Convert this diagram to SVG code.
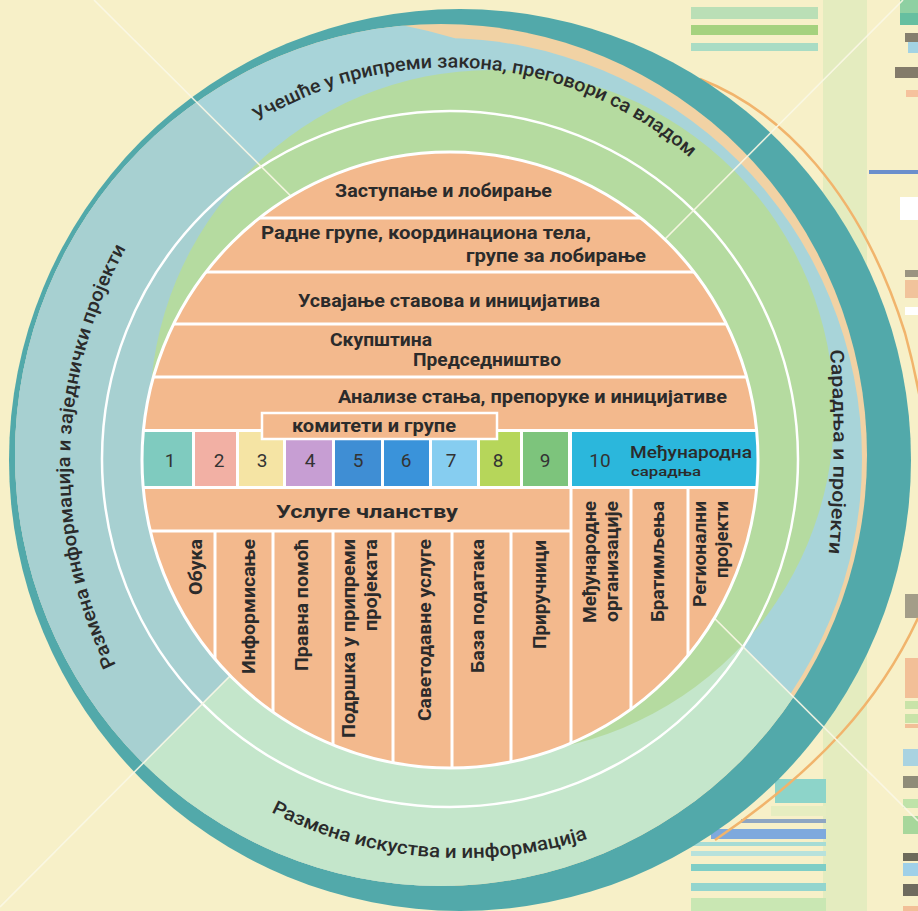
<svg xmlns="http://www.w3.org/2000/svg" width="918" height="911" viewBox="0 0 918 911">
<defs>
<style>
.t{font-family:Roboto,"Liberation Sans","DejaVu Sans",sans-serif;fill:#2b2b2b;}
.b{font-size:19px;font-weight:700;}
.v{font-size:18px;font-weight:700;}
.n{font-size:19px;font-weight:400;fill:#333;}
.r{font-size:19px;font-weight:500;}
.sep{stroke:#fff;stroke-width:3;fill:none;}
.xl{stroke:#f9f7e6;stroke-width:1.6;fill:none;opacity:.9;}
</style>
<clipPath id="cD"><ellipse cx="441" cy="455" rx="426" ry="431"/></clipPath>
<clipPath id="cDisc"><circle cx="450" cy="460" r="308"/></clipPath>
<clipPath id="cL"><rect x="0" y="0" width="455" height="911"/></clipPath>
<path id="pTop" d="M257.7,121.8 A366,366 0 0 1 690.1,157.7"/>
<path id="pRight" d="M830,350 Q838,455 828,560"/>
<path id="pBottom" d="M271,812 A419,419 0 0 0 590,838"/>
<path id="pLeft" d="M116,665 A453,453 0 0 1 125,250"/>
</defs>

<rect width="918" height="911" fill="#f7f0c8"/>

<g id="decor">
<rect x="823" y="0" width="44" height="911" fill="#e4ecbf"/>
<rect x="691" y="7" width="127" height="12" fill="#badfb6"/>
<rect x="691" y="25" width="127" height="10" fill="#a5d27e"/>
<rect x="691" y="43" width="127" height="8" fill="#a9dcc4"/>
<rect x="900" y="0" width="18" height="13" fill="#8ed0a2"/>
<rect x="900" y="13" width="18" height="12" fill="#66bfa0"/>
<rect x="905" y="33" width="13" height="9" fill="#857f6e"/>
<rect x="908" y="42" width="10" height="11" fill="#a3d3e3"/>
<rect x="895" y="67" width="23" height="11" fill="#837b6a"/>
<rect x="906" y="90" width="12" height="7" fill="#f6c29d"/>
<rect x="869" y="170" width="49" height="4" fill="#6b8fcc"/>
<rect x="900" y="197" width="18" height="23" fill="#ffffff"/>
<rect x="905" y="270" width="13" height="7" fill="#9a9480"/>
<rect x="905" y="280" width="13" height="18" fill="#f1c39b"/>
<rect x="905" y="307" width="13" height="8" fill="#ffffff"/>
<rect x="905" y="594" width="13" height="24" fill="#a39d88"/>
<rect x="905" y="658" width="13" height="40" fill="#f2bf97"/>
<rect x="905" y="701" width="13" height="8" fill="#c9e3a8"/>
<rect x="905" y="714" width="13" height="9" fill="#c9e3a8"/>
<rect x="905" y="724" width="13" height="4" fill="#f2bf97"/>
<rect x="903" y="749" width="15" height="17" fill="#a9d3e1"/>
<rect x="903" y="776" width="15" height="12" fill="#8f8c78"/>
<rect x="903" y="799" width="15" height="9" fill="#bfe3a9"/>
<rect x="903" y="816" width="15" height="18" fill="#a7d79b"/>
<rect x="903" y="853" width="15" height="8" fill="#6d6a5a"/>
<rect x="903" y="863" width="15" height="13" fill="#9fd0e8"/>
<rect x="903" y="884" width="15" height="12" fill="#6e6b5e"/>
<rect x="903" y="906" width="15" height="5" fill="#f2bf97"/>
<rect x="775" y="779" width="51" height="24" fill="#8dd4c9"/>
<rect x="771" y="806" width="55" height="10" fill="#e6edc0"/>
<rect x="741" y="819" width="85" height="4" fill="#8ea6c2"/>
<rect x="711" y="829" width="115" height="10" fill="#7ea9dd"/>
<rect x="691" y="842" width="135" height="4" fill="#a6dcd5"/>
<rect x="691" y="851" width="135" height="5" fill="#b7e2dc"/>
<rect x="691" y="864" width="135" height="7" fill="#7fcec6"/>
<rect x="691" y="883" width="135" height="8" fill="#94d5ce"/>
<rect x="691" y="898" width="135" height="13" fill="#c9e7b3"/>
<path d="M700,79 C780,110 860,190 905,333 C918,380 925,420 930,470" stroke="#f1b46c" stroke-width="2.5" fill="none"/>
<path d="M918,618 C880,700 820,768 715,840" stroke="#f1b46c" stroke-width="2.5" fill="none"/>
</g>

<g id="rings">
<circle cx="460" cy="460" r="451" fill="#52a9aa"/>
<g clip-path="url(#cD)">
<rect width="918" height="911" fill="#f1d2a4"/>
<circle cx="441" cy="459" r="421" fill="#a8d4d9"/>
<circle cx="288" cy="601" r="587" fill="#a8d4d9" clip-path="url(#cL)"/>
<polygon points="500,405 -300,-393 -300,1208" fill="#a7d0d1"/>
<polygon points="500,405 -300,1208 1300,1202" fill="#c4e6cb"/>
<circle cx="492" cy="412" r="342" fill="#b5dba0"/>
</g>
<circle cx="450" cy="459" r="348" fill="none" stroke="#fff" stroke-width="2.5"/>
</g>

<g id="connectors">
<line class="xl" x1="94" y1="0" x2="918" y2="821"/>
<line class="xl" x1="903" y1="0" x2="0" y2="907"/>
</g>

<g id="disc">
<circle cx="450" cy="460" r="308" fill="#f3b98d"/>
<g clip-path="url(#cDisc)">
<rect x="130" y="429" width="640" height="60" fill="#fff"/>
<rect x="130" y="432" width="62" height="54" fill="#7fcbbf"/>
<rect x="195" y="432" width="41" height="54" fill="#f2b0a4"/>
<rect x="239" y="432" width="44" height="54" fill="#f5e4a4"/>
<rect x="286" y="432" width="46" height="54" fill="#c79ed3"/>
<rect x="335" y="432" width="46" height="54" fill="#3f8ed4"/>
<rect x="384" y="432" width="45" height="54" fill="#3a93da"/>
<rect x="432" y="432" width="45" height="54" fill="#86cdf0"/>
<rect x="480" y="432" width="40" height="54" fill="#b6d65a"/>
<rect x="523" y="432" width="45" height="54" fill="#7dc47c"/>
<rect x="572" y="432" width="200" height="54" fill="#2bb7dc"/>
<line class="sep" x1="130" y1="218" x2="770" y2="218"/>
<line class="sep" x1="130" y1="272" x2="770" y2="272"/>
<line class="sep" x1="130" y1="324" x2="770" y2="324"/>
<line class="sep" x1="130" y1="377" x2="770" y2="377"/>
<line class="sep" x1="130" y1="531" x2="571" y2="531"/>
<line class="sep" x1="215" y1="531" x2="215" y2="780"/>
<line class="sep" x1="273" y1="531" x2="273" y2="780"/>
<line class="sep" x1="333" y1="531" x2="333" y2="780"/>
<line class="sep" x1="393" y1="531" x2="393" y2="780"/>
<line class="sep" x1="452" y1="531" x2="452" y2="780"/>
<line class="sep" x1="511" y1="531" x2="511" y2="780"/>
<line class="sep" x1="571" y1="487" x2="571" y2="780"/>
<line class="sep" x1="631" y1="487" x2="631" y2="780"/>
<line class="sep" x1="688" y1="487" x2="688" y2="780"/>
</g>
<circle cx="450" cy="460" r="308" fill="none" stroke="#fff" stroke-width="3"/>
<rect x="262" y="413" width="235" height="26" fill="#f3b98d" stroke="#fff" stroke-width="2.5"/>
</g>

<g id="disc-text" class="t">
<text class="t b" x="335" y="197" textLength="217" lengthAdjust="spacingAndGlyphs">Заступање и лобирање</text>
<text class="t b" x="261" y="239" textLength="330" lengthAdjust="spacingAndGlyphs">Радне групе, координациона тела,</text>
<text class="t b" x="466" y="262" textLength="180" lengthAdjust="spacingAndGlyphs">групе за лобирање</text>
<text class="t b" x="298" y="307" textLength="302" lengthAdjust="spacingAndGlyphs">Усвајање ставова и иницијатива</text>
<text class="t b" x="330" y="346" textLength="102" lengthAdjust="spacingAndGlyphs">Скупштина</text>
<text class="t b" x="413" y="366" textLength="148" lengthAdjust="spacingAndGlyphs">Председништво</text>
<text class="t b" x="338" y="403" textLength="389" lengthAdjust="spacingAndGlyphs">Анализе стања, препоруке и иницијативе</text>
<text class="t b" x="292" y="432" textLength="164" lengthAdjust="spacingAndGlyphs">комитети и групе</text>
<text class="t b" x="276" y="518" textLength="182" lengthAdjust="spacingAndGlyphs">Услуге чланству</text>
<g text-anchor="middle">
<text class="t n" x="170" y="467">1</text>
<text class="t n" x="219" y="467">2</text>
<text class="t n" x="262" y="467">3</text>
<text class="t n" x="310" y="467">4</text>
<text class="t n" x="358" y="467">5</text>
<text class="t n" x="406" y="467">6</text>
<text class="t n" x="451" y="467">7</text>
<text class="t n" x="498" y="467">8</text>
<text class="t n" x="545" y="467">9</text>
<text class="t n" x="600" y="467">10</text>
</g>
<text class="t" x="630" y="458" font-size="17" font-weight="500" textLength="122" lengthAdjust="spacingAndGlyphs">Међународна</text>
<text class="t" x="631" y="476" font-size="13" font-weight="500" textLength="70" lengthAdjust="spacingAndGlyphs">сарадња</text>
<g text-anchor="end">
<text class="t v" transform="translate(202,539) rotate(-90)" textLength="56" lengthAdjust="spacingAndGlyphs">Обука</text>
<text class="t v" transform="translate(255,539) rotate(-90)" textLength="135" lengthAdjust="spacingAndGlyphs">Информисање</text>
<text class="t v" transform="translate(308,539) rotate(-90)" textLength="132" lengthAdjust="spacingAndGlyphs">Правна помоћ</text>
<text class="t v" transform="translate(355,539) rotate(-90)" textLength="199" lengthAdjust="spacingAndGlyphs">Подршка у припреми</text>
<text class="t v" transform="translate(377,539) rotate(-90)" textLength="92" lengthAdjust="spacingAndGlyphs">пројеката</text>
<text class="t v" transform="translate(431,539) rotate(-90)" textLength="182" lengthAdjust="spacingAndGlyphs">Саветодавне услуге</text>
<text class="t v" transform="translate(484,539) rotate(-90)" textLength="134" lengthAdjust="spacingAndGlyphs">База података</text>
<text class="t v" transform="translate(546,540) rotate(-90)" textLength="109" lengthAdjust="spacingAndGlyphs">Приручници</text>
<text class="t v" transform="translate(596,501) rotate(-90)" textLength="122" lengthAdjust="spacingAndGlyphs">Међународне</text>
<text class="t v" transform="translate(618,501) rotate(-90)" textLength="121" lengthAdjust="spacingAndGlyphs">организације</text>
<text class="t v" transform="translate(664,501) rotate(-90)" textLength="121" lengthAdjust="spacingAndGlyphs">Братимљења</text>
<text class="t v" transform="translate(706,501) rotate(-90)" textLength="106" lengthAdjust="spacingAndGlyphs">Регионални</text>
<text class="t v" transform="translate(728,501) rotate(-90)" textLength="77" lengthAdjust="spacingAndGlyphs">пројекти</text>
</g>
</g>

<g id="ring-text" class="t">
<text class="t r"><textPath href="#pTop" textLength="464" lengthAdjust="spacingAndGlyphs">Учешће у припреми закона, преговори са владом</textPath></text>
<text class="t r"><textPath href="#pRight" textLength="204" lengthAdjust="spacingAndGlyphs">Сарадња и пројекти</textPath></text>
<text class="t r"><textPath href="#pBottom" textLength="326" lengthAdjust="spacingAndGlyphs">Размена искуства и информација</textPath></text>
<text class="t r"><textPath href="#pLeft" textLength="433" lengthAdjust="spacingAndGlyphs">Размена информација и заједнички пројекти</textPath></text>
</g>
</svg>
